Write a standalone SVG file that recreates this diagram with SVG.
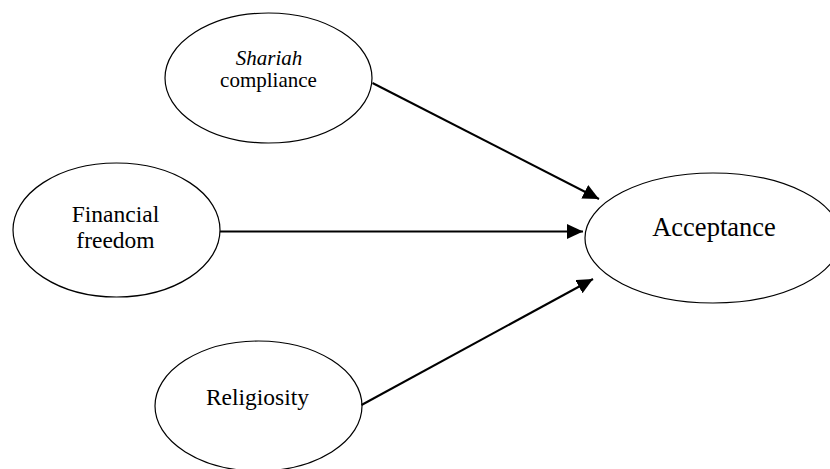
<svg xmlns="http://www.w3.org/2000/svg" width="830" height="469" viewBox="0 0 830 469">
<defs>
<style>
.node ellipse{fill:#fff;stroke:#000;stroke-width:1.2}
text{font-family:"Liberation Serif","Times New Roman",serif;fill:#000;text-anchor:middle}
.conn line{stroke:#000;stroke-width:2}
</style>
<marker id="arr" markerUnits="userSpaceOnUse" markerWidth="17" markerHeight="16" refX="16" refY="7.5" orient="auto">
<path d="M0,0 L16,7.5 L0,15 z" fill="#000"/>
</marker>
</defs>
<rect width="830" height="469" fill="#fff"/>
<g id="shariah" class="node">
<ellipse cx="268.5" cy="78" rx="103.5" ry="65"/>
<text x="269" y="65" font-size="21" font-style="italic">Shariah</text>
<text x="268.5" y="87" font-size="21">compliance</text>
</g>
<g id="financial" class="node">
<ellipse cx="116.5" cy="230" rx="103.5" ry="67"/>
<text x="115.5" y="222" font-size="23.5">Financial</text>
<text x="115.5" y="248" font-size="23.5">freedom</text>
</g>
<g id="religiosity" class="node">
<ellipse cx="258.5" cy="406" rx="103.5" ry="65"/>
<text x="257.5" y="405" font-size="23.5">Religiosity</text>
</g>
<g id="acceptance" class="node">
<ellipse cx="713" cy="238" rx="128" ry="65"/>
<text x="714" y="236" font-size="26.5">Acceptance</text>
</g>
<g id="connectors" class="conn">
<line x1="372.5" y1="83" x2="599" y2="199" marker-end="url(#arr)"/>
<line x1="220" y1="231.5" x2="583" y2="231.5" marker-end="url(#arr)"/>
<line x1="361.5" y1="405" x2="593" y2="279" marker-end="url(#arr)"/>
</g>
</svg>
